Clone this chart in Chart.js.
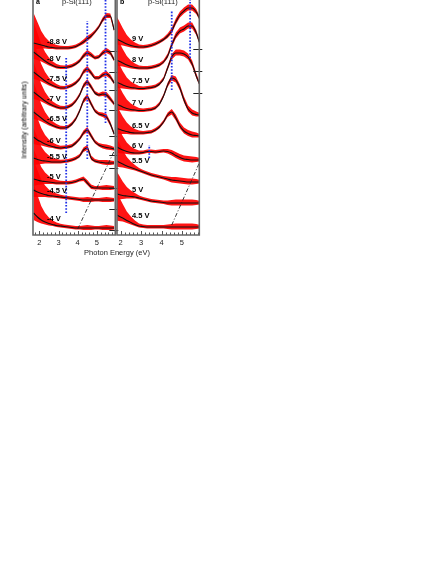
<!DOCTYPE html>
<html><head><meta charset="utf-8">
<script src="https://cdn.jsdelivr.net/npm/chart.js@4.4.0/dist/chart.umd.min.js"></script>
<style>
html,body{margin:0;padding:0;background:#fff;width:436px;height:564px;overflow:hidden;font-family:"Liberation Sans",Arial,sans-serif;}
canvas{position:absolute;top:-10px;}
#ca{left:0px}
#cb{left:84px}
.t{position:absolute;font-size:7.5px;color:#222;white-space:nowrap;line-height:1;}
#xt{left:117px;top:249px;transform:translateX(-50%);}
#yt{left:24px;top:120px;font-size:7.2px;color:#000;transform:translate(-50%,-50%) rotate(-90deg);}
</style></head><body>
<canvas id="ca" width="120" height="272"></canvas>
<canvas id="cb" width="120" height="272"></canvas>
<div class="t" id="xt">Photon Energy (eV)</div>
<div class="t" id="yt">Intensity (arbitrary units)</div>
<script>
// ---------- DATA ----------
const energies = [1.7,1.9,2.1,2.3,2.5,2.7,2.9,3.1,3.3,3.5,3.7,3.9,4.1,4.3,4.5,4.7,4.9,5.1,5.3,5.5,5.7,5.9];
const majorTicks = [2,3,4,5];

// panel a (p-Si(111), negative bias) — stacked intensities
const aVoltages = ["-8.8","-8","-7.5","-7","-6.5","-6","-5.5","-5","-4.5","-4"];
const aM88 = [192,191,190,189,188,187.5,187,187,187,187,187.5,188.5,190.5,193,196,199,203,208,215,219,219,205];
const aM80 = [183,180,177,174,171.5,169.5,168,167.5,167.5,168,169,171,174,179,182,180,177,178,182,184,182,175];
const aM75 = [163,160,157,154,151.5,149.5,148,147,147,148,149.5,152,156,163,166,162,157,157,160,161,158,152];
const aM70 = [143,140,137,134,131.5,129.5,128,127,127,128,130,134,140,149,153,148,142,140,141,140,136,131];
const aM65 = [123,120,117,114,111.5,109.5,108,107,107,108,111,116,124,134,138,131,124,121,120,118,111,101];
const aM60 = [98,95,93,91,89.5,88.5,87.5,87,87.5,88,89,92,96,102,105,99,93,90,88.5,87.5,87,86];
const aM55 = [77,75.5,74.5,74,73.5,73,73,73,73.5,74,75,76.5,79,85,87,77,74,73,72.5,72,72,72];
const aM50 = [56,55,54,53.5,53,52.5,52,52,52,52,52.5,53.5,55,56,52,48,47,47,47,47,47,47];
const aM45 = [45,43,41.5,40.5,39.5,39,38.5,38,37.5,37,36.5,36,35.5,35,35,35,35,35,35,35,35,35];
const aM40 = [22,18,15,13,11.5,10.5,9.5,9,8.5,8,7.5,7,7,7,7,7,7,7,7,7,7,7];
const aNoiseUp   = [30,22,14,9,6,4,3,2.2,2,2,2,2,2,2.5,3,2.5,2,2,2.5,3,2.5,2];
const aNoiseDown = [7,5,3.5,2.5,2,1.5,1.5,1.5,1.5,1.5,1.5,1.5,1.5,2,2,2,1.5,1.5,2,2,2,1.5];
const aBaselines = [184,163,145,125,99,80,67,47,26,5];
const aMarkE = [3.4,4.5,5.45];
const aMarkLow = [22,76,112];
const aMarkHigh = [177,214,245];
const aSlopeE = [4.0,5.95];
const aSlopeY = [6,86];

// panel b (p-Si(111), positive bias)
const bVoltages = ["9","8","7.5","7","6.5","6","5.5","5","4.5"];
const bP90 = [197,195,193,191,189.5,188.5,188,188,188.5,189.5,191,193,195.5,199,204,213,220,224,227,227,223,215];
const bP80 = [175,174,172,170,168.5,167.5,167,167,167,167.5,168.5,170,173,179,190,199,204,206,209,209,202,190];
const bP75 = [153,152,150,148.5,147.5,147,146.5,146.5,147,147.5,148.5,151,156,167,178,182,182,181,178,171,159,149];
const bP70 = [131,130,128,126.5,125.5,125,124.5,124.5,125,125.5,127,131,139,150,157,155,147,135,126,122,120.5,120];
const bP65 = [107,106,104.5,103.5,102.5,102,102,102,102.5,103,105,108,113,120,123,117,109,104,101.5,100,99.5,99];
const bP60 = [89,87,85,83.5,82.5,82,82,82.5,83.5,83.5,83,83.5,84,83.5,82,79.5,77.5,76,75.5,75,75,75];
const bP55 = [75,73,71,69,67.5,66,64.5,63,61.5,60,59,58,57,56,55,54.5,54,53.5,53,53,53,53];
const bP50 = [42,40.5,39.5,39,38.5,38,37,36,35,34,33.5,33,32.5,32,32,32,32,32,32,32,32,32];
const bP45 = [21,19,17,14.5,12.5,10.5,9,8.5,8,8,8,8,8,8,8,8,8,8,8,8,8,8];
const bNoiseUp   = [25,20,14,9,6,4,2.5,2,2,2,2,2,2,2.5,3,3.5,3.5,3.5,3.5,3.5,3,2];
const bNoiseDown = [6,5,3.5,2.5,2,1.5,1.5,1.5,1.5,1.5,1.5,1.5,1.5,2,2.5,2.5,2.5,2.5,2.5,2.5,2,1.5];
const bBaselines = [186,164,142];
const bMarkE = [4.5,5.4,3.4];
const bMarkLow = [145,177,77];
const bMarkHigh = [225,245,90];
const bSlopeE = [4.5,5.85];
const bSlopeY = [10,72];

// ---------- DRAWING ----------
const FONT = '"Liberation Sans", Arial, sans-serif';

function pts(vals){ return energies.map((e,i)=>({x:e,y:vals[i]})); }

function buildPanel(id, cfg){
  const ds = [];
  cfg.traces.forEach(tr=>{
    ds.push({data: pts(tr.map((v,i)=>v-cfg.down[i])), borderWidth:0, pointRadius:0, fill:false, tension:0, order:5});
    ds.push({data: pts(tr.map((v,i)=>v+cfg.up[i])), borderWidth:0, pointRadius:0, fill:'-1', backgroundColor:'rgba(255,0,0,0.92)', tension:0, order:5});
  });
  cfg.traces.forEach(tr=>{
    ds.push({data: pts(tr), borderColor:'#111', borderWidth:1.1, pointRadius:0, fill:false, cubicInterpolationMode:'monotone', order:3});
  });
  ds.push({data:[{x:cfg.slopeE[0],y:cfg.slopeY[0]},{x:cfg.slopeE[1],y:cfg.slopeY[1]}], borderColor:'#222', borderWidth:0.9, borderDash:[4,2,1,2], pointRadius:0, fill:false, order:2});
  cfg.markE.forEach((e,i)=>{
    ds.push({data:[{x:e,y:cfg.markLow[i]},{x:e,y:cfg.markHigh[i]}], borderColor:'#2030e8', borderWidth:1.8, borderDash:[1.6,1.6], pointRadius:0, fill:false, order:1});
  });

  const deco = {
    id:'deco'+id,
    afterDraw(chart){
      const ctx = chart.ctx, a = chart.chartArea, xs = chart.scales.x, ys = chart.scales.y;
      ctx.save();
      ctx.strokeStyle = '#555'; ctx.lineWidth = 1;
      const start = Math.ceil(xs.min/0.2 - 1e-6)*0.2;
      for(let v=start; v<=xs.max+1e-6; v+=0.2){
        const px = Math.round(xs.getPixelForValue(v))+0.5;
        const major = Math.abs(v-Math.round(v))<1e-6;
        ctx.beginPath(); ctx.moveTo(px,a.bottom); ctx.lineTo(px,a.bottom-(major?4:2.5)); ctx.stroke();
      }
      ctx.strokeStyle = '#222'; ctx.lineWidth = 1;
      cfg.baselines.forEach(b=>{
        const py = Math.round(ys.getPixelForValue(b))+0.5;
        ctx.beginPath(); ctx.moveTo(a.right-6,py); ctx.lineTo(a.right+3,py); ctx.stroke();
      });
      ctx.strokeStyle = '#666'; ctx.lineWidth = 1.6;
      ctx.beginPath();
      ctx.moveTo(a.left,a.top); ctx.lineTo(a.left,a.bottom); ctx.lineTo(a.right,a.bottom); ctx.lineTo(a.right,a.top);
      ctx.stroke();
      ctx.fillStyle = '#000';
      ctx.font = 'bold 7.5px '+FONT;
      ctx.textBaseline = 'middle'; ctx.textAlign = 'left';
      cfg.traces.forEach((tr,i)=>{
        const px = xs.getPixelForValue(cfg.labelE);
        const py = ys.getPixelForValue(tr[4]) - cfg.labelDy;
        ctx.fillText(cfg.voltages[i]+' V', px, py);
      });
      ctx.font = 'bold 7px '+FONT;
      ctx.fillText(cfg.letter, a.left+3, 12);
      ctx.font = '7.5px '+FONT; ctx.fillStyle = '#222';
      ctx.fillText('p-Si(111)', a.left+cfg.titleDx, 12);
      ctx.restore();
    }
  };

  return new Chart(document.getElementById(id), {
    type:'line',
    data:{datasets:ds},
    options:{
      responsive:false, animation:false, devicePixelRatio:1,
      layout:{padding:{left:33,right:4.7,top:0,bottom:15}},
      plugins:{legend:{display:false}, tooltip:{enabled:false}},
      scales:{
        x:{type:'linear', min:cfg.xmin, max:cfg.xmax,
           grid:{display:false, drawTicks:false}, border:{display:false},
           afterBuildTicks: s=>{ s.ticks = majorTicks.map(v=>({value:v})); },
           afterFit: s=>{ s.height = 12; },
           ticks:{padding:3, autoSkip:false, maxRotation:0, color:'#222', font:{size:7.5, family:FONT}}},
        y:{type:'linear', min:0, max:245, display:false}
      }
    },
    plugins:[deco]
  });
}

buildPanel('ca', {
  traces:[aM88,aM80,aM75,aM70,aM65,aM60,aM55,aM50,aM45,aM40], voltages:aVoltages,
  up:aNoiseUp, down:aNoiseDown, baselines:aBaselines,
  markE:aMarkE, markLow:aMarkLow, markHigh:aMarkHigh, slopeE:aSlopeE, slopeY:aSlopeY,
  xmin:1.67, xmax:5.96, labelE:2.4, labelDy:5, letter:'a', titleDx:29
});
buildPanel('cb', {
  traces:[bP90,bP80,bP75,bP70,bP65,bP60,bP55,bP50,bP45], voltages:bVoltages,
  up:bNoiseUp, down:bNoiseDown, baselines:bBaselines,
  markE:bMarkE, markLow:bMarkLow, markHigh:bMarkHigh, slopeE:bSlopeE, slopeY:bSlopeY,
  xmin:1.82, xmax:5.85, labelE:2.55, labelDy:7, letter:'b', titleDx:31
});
</script>
</body></html>
